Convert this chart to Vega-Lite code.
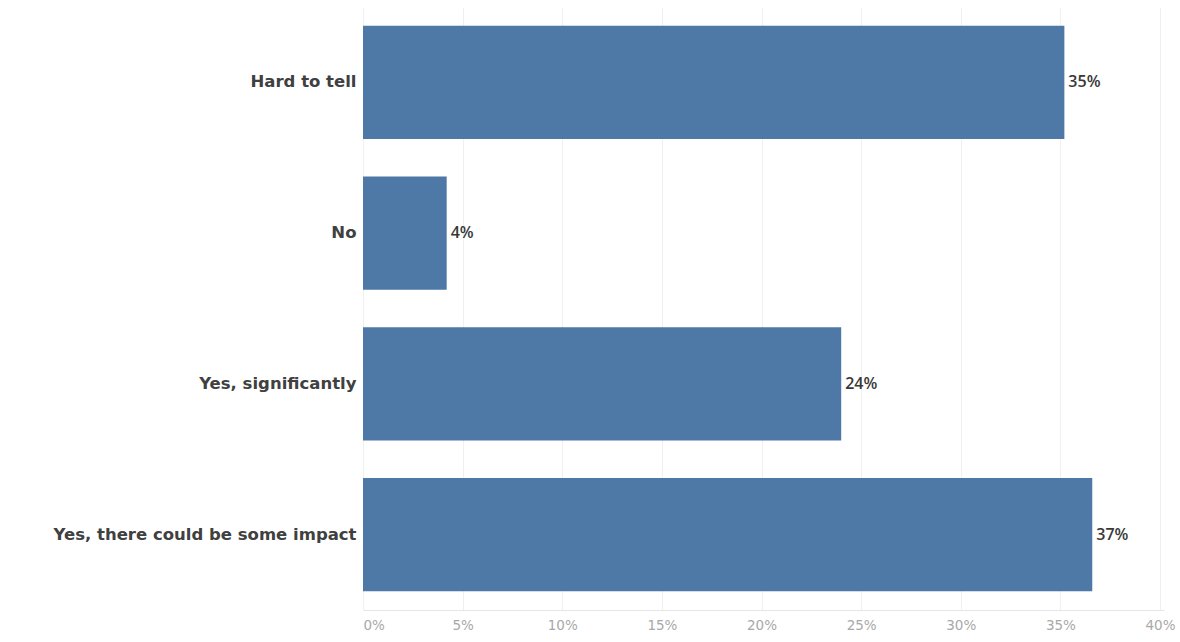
{
  "$schema": "https://vega.github.io/schema/vega-lite/v6.json",
  "autosize": {"type": "none"},
  "padding": {"left": 363, "top": 7, "right": 16, "bottom": 32},
  "width": 801,
  "height": 603,
  "background": "white",
  "config": {"view": {"stroke": null}, "font": "Open Sans"},
  "data": {"values": [
    {"answer": "Hard to tell", "share": 0.352},
    {"answer": "No", "share": 0.042},
    {"answer": "Yes, significantly", "share": 0.240},
    {"answer": "Yes, there could be some impact", "share": 0.366}
  ]},
  "encoding": {
    "y": {
      "field": "answer", "type": "nominal", "sort": null,
      "scale": {"paddingInner": 0.25, "paddingOuter": 0.125},
      "axis": {"title": null, "ticks": false, "domain": false, "labelFontSize": 16.5, "labelFontWeight": "bold", "labelColor": "#404040", "labelPadding": 7, "labelLimit": 400, "labelFont": "DejaVu Sans"}
    },
    "x": {
      "field": "share", "type": "quantitative",
      "scale": {"domain": [0, 0.402], "nice": false},
      "axis": {"title": null, "format": ".0%", "values": [0, 0.05, 0.1, 0.15, 0.2, 0.25, 0.3, 0.35, 0.4], "ticks": false, "labelFlush": true, "labelFont": "DejaVu Sans", "labelFontSize": 13.5, "labelColor": "#a8a8a8", "labelPadding": 8, "domainColor": "#e6e6e6", "gridColor": "#f0f0f0", "grid": true}
    }
  },
  "layer": [
    {"mark": {"type": "bar", "color": "#4e79a7"}},
    {"mark": {"type": "text", "align": "left", "dx": 4, "fontSize": 16, "fontWeight": 600, "color": "#383838", "font": "Open Sans"},
     "encoding": {"text": {"field": "share", "type": "quantitative", "format": ".0%"}}}
  ]
}
